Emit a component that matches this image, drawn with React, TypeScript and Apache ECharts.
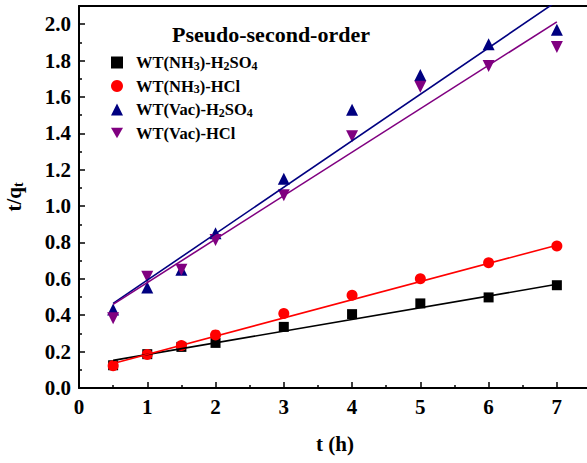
import React, { useEffect, useRef } from "react";
import * as echarts from "echarts";

const xData = [0.5, 1, 1.5, 2, 3, 4, 5, 6, 7];
const nh3H2so4 = [0.125, 0.186, 0.226, 0.248, 0.336, 0.406, 0.465, 0.498, 0.565];
const nh3Hcl = [0.123, 0.184, 0.234, 0.292, 0.41, 0.51, 0.6, 0.688, 0.781];
const vacH2so4 = [0.432, 0.553, 0.65, 0.851, 1.151, 1.53, 1.72, 1.89, 1.97];
const vacHcl = [0.383, 0.612, 0.65, 0.814, 1.06, 1.384, 1.656, 1.77, 1.875];

const fitX = [0.5, 7];
const fitNh3H2so4 = [0.152, 0.57];
const fitNh3Hcl = [0.135, 0.785];
const fitVacH2so4 = [0.465, 2.126];
const fitVacHcl = [0.46, 2.013];

const names = ["WT(NH3)-H2SO4", "WT(NH3)-HCl", "WT(Vac)-H2SO4", "WT(Vac)-HCl"];
const legendRich: Record<string, string> = {
  "WT(NH3)-H2SO4": "WT(NH{s|3})-H{s|2}SO{s|4}",
  "WT(NH3)-HCl": "WT(NH{s|3})-HCl",
  "WT(Vac)-H2SO4": "WT(Vac)-H{s|2}SO{s|4}",
  "WT(Vac)-HCl": "WT(Vac)-HCl",
};

const FONT = '"Liberation Serif", "Times New Roman", serif';
const DOWN_TRI = "path://M0,0 L10,0 L5,8.66 Z";

const pts = (ys: number[]) => xData.map((x, i) => [x, ys[i]]);
const fit = (ys: number[]) => fitX.map((x, i) => [x, ys[i]]);

export default function App() {
  const ref = useRef<HTMLDivElement>(null);
  useEffect(() => {
    if (!ref.current) return;
    const chart = echarts.init(ref.current, null, { renderer: "svg" });
    const lineSeries = (data: number[][], color: string) => ({
      type: "line",
      data,
      symbol: "none",
      lineStyle: { color, width: 1.6 },
      clip: true,
      silent: true,
      z: 3,
    });
    const scatter = (name: string, data: number[][], color: string, symbol: string, size: number) => ({
      type: "scatter",
      name,
      data,
      symbol,
      symbolSize: size,
      itemStyle: { color, opacity: 1 },
      z: 2,
    });
    chart.setOption({
      animation: false,
      backgroundColor: "#fff",
      title: {
        text: "Pseudo-second-order",
        left: 167,
        top: 18,
        textStyle: { fontFamily: FONT, fontWeight: "bold", fontSize: 22, color: "#000" },
      },
      legend: {
        orient: "vertical",
        left: 106,
        top: 49,
        itemWidth: 12,
        itemHeight: 12,
        itemGap: 6,
        data: names,
        formatter: (n: string) => legendRich[n] || n,
        textStyle: {
          fontFamily: FONT,
          fontWeight: "bold",
          fontSize: 16.5,
          color: "#000",
          padding: [0, 0, 0, 8],
          rich: {
            s: { fontFamily: FONT, fontWeight: "bold", fontSize: 12, color: "#000", verticalAlign: "bottom", padding: [6, 0, 0, 0] },
          },
        },
      },
      grid: { left: 79, right: -4, top: 6, bottom: 75, containLabel: false, outerBoundsMode: "none" },
      xAxis: [
        {
          type: "value",
          min: 0,
          max: 7.5,
          interval: 1,
          name: "t (h)",
          nameLocation: "middle",
          nameGap: 45,
          nameTextStyle: { fontFamily: FONT, fontWeight: "bold", fontSize: 21, color: "#000" },
          axisLine: { show: true, onZero: false, lineStyle: { color: "#000", width: 2 } },
          axisTick: { show: true, inside: true, length: 6, lineStyle: { color: "#000", width: 1.5 } },
          minorTick: { show: true, splitNumber: 2, length: 3, lineStyle: { color: "#000", width: 1.5 } },
          axisLabel: {
            fontFamily: FONT,
            fontWeight: "bold",
            fontSize: 21,
            color: "#000",
            margin: 8,
            formatter: (v: number) => (Number.isInteger(v) ? String(v) : ""),
          },
          splitLine: { show: false },
        },
        {
          type: "value",
          position: "top",
          min: 0,
          max: 7.5,
          axisLine: { show: true, onZero: false, lineStyle: { color: "#000", width: 2 } },
          axisTick: { show: false },
          axisLabel: { show: false },
          splitLine: { show: false },
        },
      ],
      yAxis: {
        type: "value",
        min: 0,
        max: 2.1,
        interval: 0.2,
        name: "t/q{s|t}",
        nameLocation: "middle",
        nameGap: 54,
        nameRotate: 90,
        nameTextStyle: {
          fontFamily: FONT,
          fontWeight: "bold",
          fontSize: 21,
          color: "#000",
          rich: { s: { fontFamily: FONT, fontWeight: "bold", fontSize: 14, color: "#000", padding: [8, 0, 0, 0] } },
        },
        axisLine: { show: true, onZero: false, lineStyle: { color: "#000", width: 2 } },
        axisTick: { show: true, inside: true, length: 6, lineStyle: { color: "#000", width: 1.5 } },
        minorTick: { show: true, splitNumber: 2, length: 3, lineStyle: { color: "#000", width: 1.5 } },
        axisLabel: {
          fontFamily: FONT,
          fontWeight: "bold",
          fontSize: 21,
          color: "#000",
          margin: 8,
          formatter: (v: number) => (v > 2.05 ? "" : v.toFixed(1)),
        },
        splitLine: { show: false },
      },
      series: [
        scatter(names[0], pts(nh3H2so4), "#000000", "rect", 10),
        scatter(names[1], pts(nh3Hcl), "#ff0000", "circle", 11),
        scatter(names[2], pts(vacH2so4), "#000080", "triangle", 12),
        scatter(names[3], pts(vacHcl), "#800080", DOWN_TRI, 12),
        lineSeries(fit(fitNh3H2so4), "#000000"),
        lineSeries(fit(fitNh3Hcl), "#ff0000"),
        lineSeries(fit(fitVacH2so4), "#000080"),
        lineSeries(fit(fitVacHcl), "#800080"),
      ],
    });
    return () => chart.dispose();
  }, []);
  return (
    <div
      ref={ref}
      style={{ position: "fixed", left: 0, top: 0, width: 587, height: 463, background: "#fff" }}
    />
  );
}
